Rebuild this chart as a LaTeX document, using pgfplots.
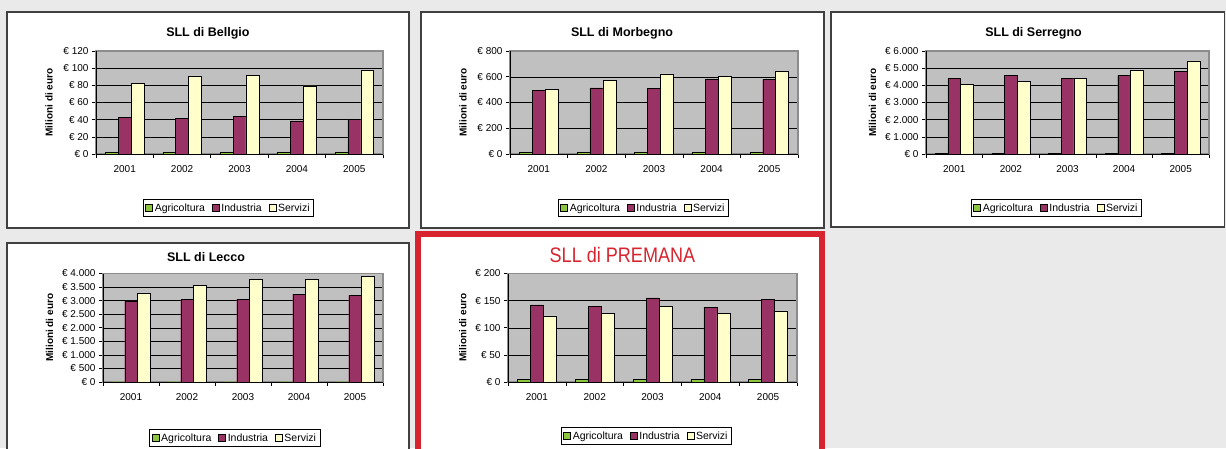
\documentclass[border=0pt]{standalone}
\usepackage{fontspec}
\setmainfont{Liberation Sans}
\newfontfamily\titlefont[FakeStretch=0.86]{Liberation Sans}
\usepackage{pgfplots}
\pgfplotsset{compat=1.18}
\definecolor{bg}{HTML}{E9EAE9}
\definecolor{plotbg}{HTML}{C0C0C0}
\definecolor{agri}{HTML}{8CC63F}
\definecolor{ind}{HTML}{993366}
\definecolor{serv}{HTML}{FFFFCC}
\definecolor{premred}{HTML}{D7242E}
\pgfplotsset{
  panel/.style={
    scale only axis, anchor=south west,
    xmin=-0.5, xmax=4.5, ymin=0,
    ybar, bar width=0.225,
    legend image code/.code={\draw[##1, draw=black, line width=0.4pt] (0pt,-3.5pt) rectangle (7pt,3.5pt);},
    axis background/.style={fill=plotbg},
    axis line style={draw=black!45, line width=1.3pt},
    ymajorgrids, major grid style={black, line width=0.5pt},
    xtick={0,...,4}, xticklabels={2001,2002,2003,2004,2005},
    minor xtick={-0.5,0.5,...,4.5},
    major x tick style={draw=none},
    minor x tick style={black, line width=0.6pt},
    ytick style={black, line width=0.6pt},
    tick align=outside, tick pos=left,
    major tick length=4pt, minor tick length=4pt,
    ticklabel style={font=\fontsize{10}{12}\selectfont},
    xticklabel style={yshift=-4pt},
    ylabel={Milioni di euro},
    ylabel style={font=\bfseries\fontsize{10}{12}\selectfont, anchor=center},
    every axis title shift=0pt,
    title style={font=\bfseries\fontsize{12.5}{14}\selectfont, anchor=center},
    legend columns=3, legend cell align=left,
    legend style={draw=black, line width=0.6pt, anchor=center,
      font=\fontsize{10.5}{12}\selectfont, inner sep=2pt,
      /tikz/every even column/.append style={column sep=5pt}},
    after end axis/.code={\draw[black, line width=0.7pt] (rel axis cs:0,1) -- (rel axis cs:0,0) -- (rel axis cs:1,0);},
  }
}
\newcommand{\bars}[3]{%
  \addplot[fill=agri, draw=black, line width=0.4pt, bar shift=-0.225] coordinates {#1};
  \addplot[fill=ind, draw=black, line width=0.4pt, bar shift=0] coordinates {#2};
  \addplot[fill=serv, draw=black, line width=0.4pt, bar shift=0.225] coordinates {#3};
  \legend{Agricoltura,Industria,Servizi}}
\begin{document}
\begin{tikzpicture}
\path[use as bounding box] (0,0) rectangle (1226pt,448pt);
\fill[bg] (0,0) rectangle (1226pt,448pt);
\filldraw[fill=white, draw=black!75, line width=1.2pt] (7pt,220pt) rectangle (409pt,436pt);
\filldraw[fill=white, draw=black!75, line width=1.2pt] (421pt,220pt) rectangle (824pt,436pt);
\filldraw[fill=white, draw=black!75, line width=1.2pt] (831pt,221pt) rectangle (1224.5pt,436pt);
\filldraw[fill=white, draw=black!75, line width=1.2pt] (7pt,-5pt) rectangle (409pt,205pt);
\filldraw[fill=white, draw=premred, line width=6pt] (418pt,-8pt) rectangle (821.5pt,214.5pt);

% SLL di Bellgio
\begin{axis}[panel, at={(96pt,294pt)}, width=287pt, height=103pt,
  ymax=120, ytick={0,20,...,120},
  yticklabels={€ 0,€ 20,€ 40,€ 60,€ 80,€ 100,€ 120},
  title={SLL di Bellgio}, title style={at={(axis description cs:0.39,1.175)}},
  ylabel style={at={(axis description cs:-0.164,0.5)}},
  legend style={at={(axis description cs:0.4617,-0.524)}}]
\bars{(0,2) (1,2) (2,2) (3,2) (4,2)}
     {(0,43) (1,41.5) (2,43.5) (3,38.5) (4,40.5)}
     {(0,82.5) (1,91) (2,91.5) (3,79.5) (4,97.5)}
\end{axis}

% SLL di Morbegno
\begin{axis}[panel, at={(510pt,294pt)}, width=288pt, height=103pt,
  ymax=800, ytick={0,200,...,800},
  yticklabels={€ 0,€ 200,€ 400,€ 600,€ 800},
  title={SLL di Morbegno}, title style={at={(axis description cs:0.389,1.175)}},
  ylabel style={at={(axis description cs:-0.163,0.5)}},
  legend style={at={(axis description cs:0.4635,-0.524)}}]
\bars{(0,15) (1,15) (2,15) (3,15) (4,15)}
     {(0,493) (1,514) (2,509) (3,584) (4,579)}
     {(0,500) (1,571) (2,623) (3,602) (4,641)}
\end{axis}

% SLL di Serregno
\begin{axis}[panel, at={(926pt,294pt)}, width=283pt, height=103pt,
  ymax=6000, ytick={0,1000,...,6000},
  yticklabels={€ 0,€ 1.000,€ 2.000,€ 3.000,€ 4.000,€ 5.000,€ 6.000},
  title={SLL di Serregno}, title style={at={(axis description cs:0.38,1.175)}},
  ylabel style={at={(axis description cs:-0.189,0.5)}},
  legend style={at={(axis description cs:0.461,-0.524)}}]
\bars{(0,40) (1,40) (2,40) (3,40) (4,40)}
     {(0,4410) (1,4570) (2,4410) (3,4570) (4,4800)}
     {(0,4060) (1,4220) (2,4410) (3,4880) (4,5420)}
\end{axis}

% SLL di Lecco
\begin{axis}[panel, at={(103pt,66pt)}, width=280pt, height=108.5pt,
  ymax=4000, ytick={0,500,...,4000},
  yticklabels={€ 0,€ 500,€ 1.000,€ 1.500,€ 2.000,€ 2.500,€ 3.000,€ 3.500,€ 4.000},
  title={SLL di Lecco}, title style={at={(axis description cs:0.368,1.154)}},
  ylabel style={at={(axis description cs:-0.191,0.5)}},
  legend style={at={(axis description cs:0.471,-0.517)}}]
\bars{(0,10) (1,10) (2,10) (3,10) (4,10)}
     {(0,2990) (1,3040) (2,3050) (3,3230) (4,3200)}
     {(0,3280) (1,3570) (2,3780) (3,3790) (4,3900)}
\end{axis}

% SLL di PREMANA
\begin{axis}[panel, at={(508pt,66pt)}, width=289pt, height=108.5pt,
  ymax=200, ytick={0,50,...,200},
  yticklabels={€ 0,€ 50,€ 100,€ 150,€ 200},
  title={SLL di PREMANA},
  title style={at={(axis description cs:0.396,1.173)}, font=\titlefont\fontsize{21}{24}\selectfont, text=premred},
  ylabel style={at={(axis description cs:-0.156,0.5)}},
  legend style={at={(axis description cs:0.479,-0.499)}}]
\bars{(0,5) (1,5) (2,5) (3,5) (4,5)}
     {(0,142) (1,139) (2,155) (3,138) (4,153)}
     {(0,122) (1,127) (2,140) (3,127) (4,131)}
\end{axis}
\end{tikzpicture}
\end{document}
